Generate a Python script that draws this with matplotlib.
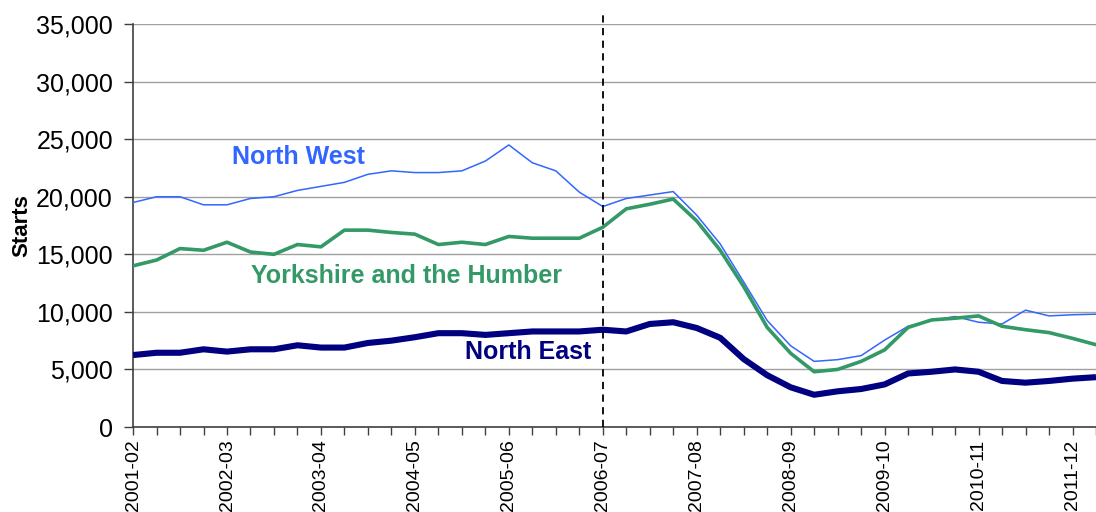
import matplotlib
matplotlib.use("Agg")
import matplotlib.pyplot as plt
from matplotlib.ticker import FuncFormatter

# --------------------------
# Data (quarterly housing starts)
# --------------------------
YEAR_LABELS = ["2001-02", "2002-03", "2003-04", "2004-05", "2005-06", "2006-07",
               "2007-08", "2008-09", "2009-10", "2010-11", "2011-12"]

north_west = [19500, 20000, 20000, 19300, 19300, 19850, 20000, 20550, 20900, 21250,
              21950, 22250, 22100, 22100, 22250, 23100, 24500, 22950, 22250, 20400,
              19150, 19850, 20150, 20450, 18400, 15900, 12600, 9250, 7050, 5700,
              5850, 6200, 7550, 8750, 9250, 9600, 9100, 8950, 10150, 9650,
              9750, 9800]

yorkshire = [14000, 14500, 15500, 15350, 16050, 15200, 15000, 15850, 15650, 17100,
             17100, 16900, 16750, 15850, 16050, 15850, 16550, 16400, 16400, 16400,
             17350, 18950, 19350, 19800, 17900, 15350, 12200, 8650, 6400, 4800,
             5000, 5700, 6700, 8650, 9300, 9450, 9650, 8750, 8450, 8200,
             7700, 7150]

north_east = [6250, 6450, 6450, 6750, 6550, 6750, 6750, 7100, 6900, 6900,
              7300, 7500, 7800, 8150, 8150, 8000, 8150, 8300, 8300, 8300,
              8450, 8300, 8950, 9100, 8600, 7750, 5900, 4500, 3450, 2800,
              3100, 3300, 3700, 4650, 4800, 5000, 4800, 4000, 3850, 4000,
              4200, 4330]

SPLIT_INDEX = 20  # 2006-07 marker

# --------------------------
# Styling
# --------------------------
FONT = ["Liberation Sans", "DejaVu Sans"]
plt.rcParams["font.family"] = FONT

C_NW = "#3366FF"
C_YH = "#339966"
C_NE = "#000080"


def thousands(v, pos):
    return f"{int(v):,}"


def main():
    fig = plt.figure(figsize=(10.96, 5.12), dpi=100)
    ax = fig.add_axes([0.1214, 0.166, 0.8786, 0.787])

    x = list(range(len(north_west)))
    ax.plot(x, north_west, color=C_NW, lw=1.1, zorder=3)
    ax.plot(x, yorkshire, color=C_YH, lw=2.6, zorder=4)
    ax.plot(x, north_east, color=C_NE, lw=4.4, zorder=5, solid_capstyle="butt")

    ax.axvline(SPLIT_INDEX, ymin=0, ymax=1.035, color="black", lw=1.3,
               ls=(0, (4, 3)), clip_on=False, zorder=6)

    # labels placed on the lines
    ax.text(7.03, 23450, "North West", color=C_NW, fontsize=18,
            fontweight="bold", ha="center", va="center")
    ax.text(11.66, 13100, "Yorkshire and the Humber", color=C_YH, fontsize=18,
            fontweight="bold", ha="center", va="center")
    ax.text(16.8, 6500, "North East", color=C_NE, fontsize=18,
            fontweight="bold", ha="center", va="center")

    # axes
    ax.set_xlim(0, 40.55)
    ax.set_ylim(0, 35000)
    ax.set_yticks(range(0, 35001, 5000))
    ax.yaxis.set_major_formatter(FuncFormatter(thousands))
    ax.grid(axis="y", color="#A0A0A0", lw=1.0)
    ax.set_axisbelow(True)

    ax.set_xticks(x)
    labels = []
    for i in x:
        labels.append(YEAR_LABELS[i // 4] if i % 4 == 0 and i // 4 < len(YEAR_LABELS) else "")
    ax.set_xticklabels(labels, rotation=90, fontsize=14)

    ax.tick_params(axis="y", labelsize=18, length=6.5, width=1.0,
                   color="#404040", direction="out", pad=8)
    ax.tick_params(axis="x", length=6, width=1.0, color="#404040",
                   direction="out", pad=3)

    for side in ["top", "right"]:
        ax.spines[side].set_visible(False)
    ax.spines["left"].set_color("#404040")
    ax.spines["bottom"].set_color("#404040")
    ax.spines["left"].set_linewidth(1.2)
    ax.spines["bottom"].set_linewidth(1.2)

    ax.set_ylabel("Starts", fontsize=16, fontweight="bold")
    ax.yaxis.set_label_coords(-0.105, 0.5)

    fig.savefig("out.png", dpi=100)
    plt.close(fig)


if __name__ == "__main__":
    main()
